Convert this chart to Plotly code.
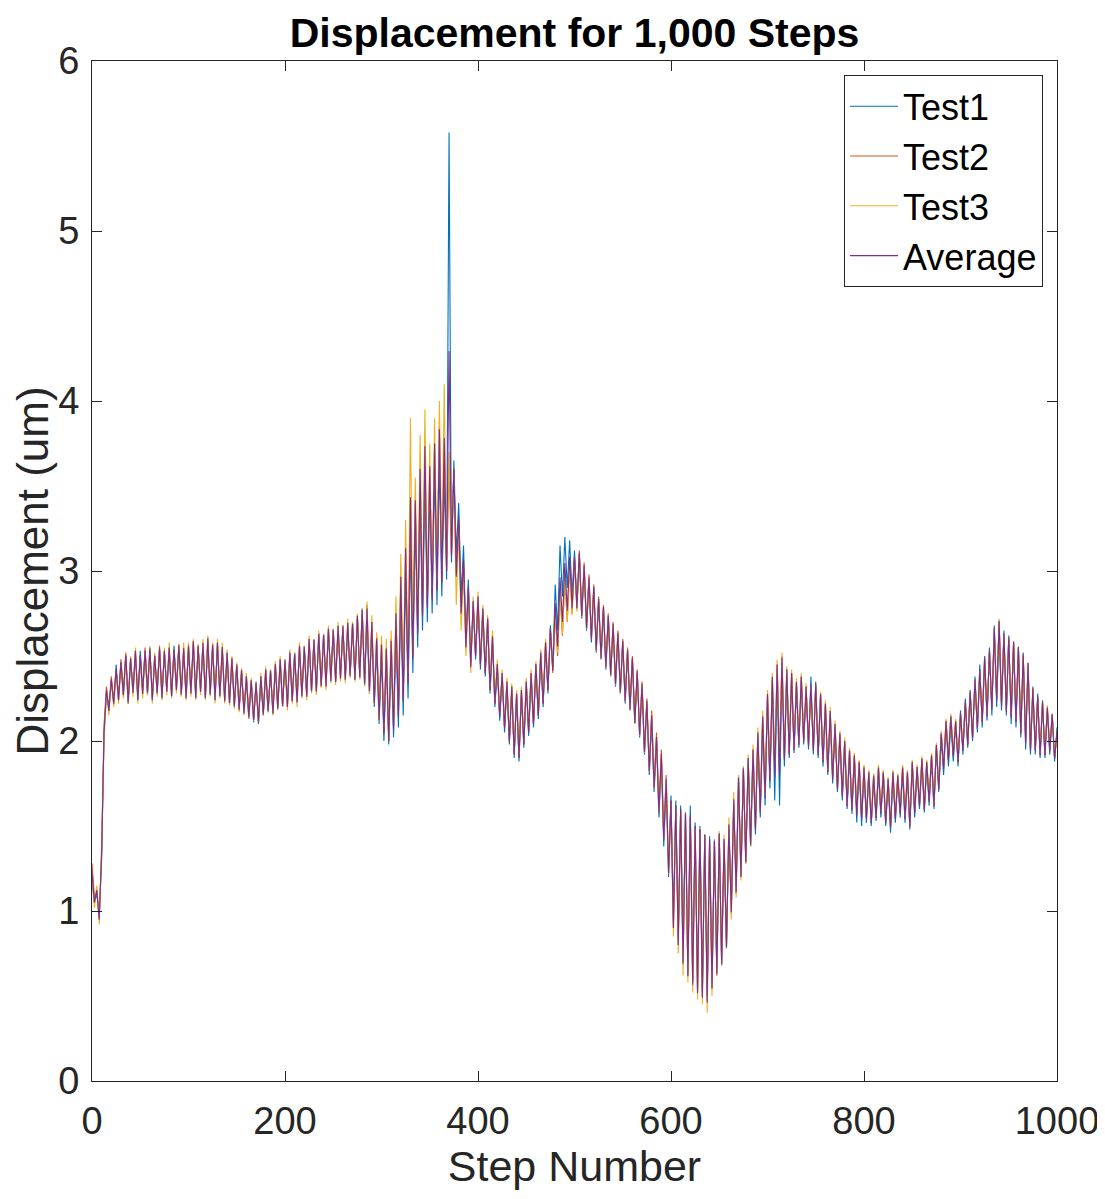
import plotly.graph_objects as go

# Peak (hi) and trough (lo) values, in um (one pair every 5 steps)
test1_hi = [
    1.18, 1.10, 1.30, 2.28, 2.35, 2.45, 2.46, 2.50, 2.49, 2.51, 2.53, 2.52, 2.55, 2.50, 2.54, 2.53, 2.52, 2.56, 2.55, 2.52,
    2.54, 2.57, 2.56, 2.55, 2.58, 2.55, 2.56, 2.53, 2.50, 2.47, 2.44, 2.40, 2.36, 2.34, 2.35, 2.36, 2.40, 2.42, 2.44, 2.46,
    2.48, 2.50, 2.52, 2.54, 2.56, 2.58, 2.60, 2.61, 2.63, 2.64, 2.66, 2.65, 2.68, 2.66, 2.70, 2.74, 2.78, 2.72, 2.66, 2.55,
    2.50, 2.48, 2.52, 2.65, 2.85, 3.00, 3.15, 3.30, 3.45, 3.55, 3.50, 3.60, 3.65, 3.55, 5.58, 3.65, 3.40, 3.15, 2.95, 2.82,
    2.82, 2.76, 2.70, 2.58, 2.43, 2.38, 2.33, 2.30, 2.26, 2.28, 2.33, 2.38, 2.44, 2.50, 2.56, 2.68, 2.92, 3.15, 3.20, 3.18,
    3.12, 3.10, 3.02, 2.95, 2.90, 2.82, 2.78, 2.72, 2.68, 2.62, 2.58, 2.52, 2.48, 2.40, 2.32, 2.22, 2.12, 2.00, 1.90, 1.75,
    1.68, 1.65, 1.62, 1.58, 1.62, 1.52, 1.50, 1.45, 1.44, 1.42, 1.45, 1.40, 1.48, 1.62, 1.80, 1.85, 1.88, 1.92, 2.02, 2.10,
    2.25, 2.35, 2.42, 2.45, 2.40, 2.38, 2.32, 2.36, 2.30, 2.38, 2.35, 2.26, 2.20, 2.15, 2.08, 2.02, 1.98, 1.92, 1.90, 1.86,
    1.82, 1.80, 1.78, 1.82, 1.80, 1.76, 1.80, 1.78, 1.82, 1.80, 1.86, 1.83, 1.88, 1.86, 1.90, 1.96, 2.02, 2.10, 2.12, 2.10,
    2.18, 2.25, 2.30, 2.38, 2.45, 2.50, 2.55, 2.68, 2.70, 2.65, 2.62, 2.58, 2.55, 2.52, 2.46, 2.32, 2.28, 2.24, 2.18, 2.16,
    2.08,
]
test1_lo = [
    1.05, 0.98, 2.05, 2.20, 2.22, 2.24, 2.27, 2.22, 2.28, 2.24, 2.30, 2.27, 2.24, 2.28, 2.25, 2.29, 2.26, 2.30, 2.27, 2.25,
    2.28, 2.25, 2.29, 2.25, 2.27, 2.24, 2.26, 2.23, 2.22, 2.20, 2.18, 2.16, 2.13, 2.11, 2.10, 2.15, 2.17, 2.16, 2.19, 2.20,
    2.22, 2.23, 2.25, 2.26, 2.28, 2.29, 2.31, 2.32, 2.34, 2.35, 2.36, 2.37, 2.38, 2.38, 2.36, 2.37, 2.33, 2.28, 2.20, 2.10,
    2.00, 1.98, 2.02, 2.08, 2.15, 2.25, 2.40, 2.55, 2.65, 2.70, 2.75, 2.80, 2.85, 2.95, 3.05, 3.10, 2.85, 2.60, 2.45, 2.48,
    2.42, 2.38, 2.28, 2.20, 2.12, 2.05, 1.98, 1.90, 1.88, 1.96, 2.03, 2.08, 2.13, 2.20, 2.28, 2.42, 2.65, 2.85, 2.90, 2.85,
    2.80, 2.72, 2.65, 2.58, 2.52, 2.48, 2.42, 2.38, 2.32, 2.28, 2.22, 2.18, 2.10, 2.02, 1.92, 1.80, 1.70, 1.55, 1.38, 1.20,
    0.95, 0.85, 0.75, 0.65, 0.60, 0.55, 0.52, 0.50, 0.58, 0.62, 0.68, 0.78, 1.05, 1.15, 1.22, 1.28, 1.38, 1.45, 1.55, 1.62,
    1.72, 1.65, 1.62, 1.85, 1.90, 1.93, 1.96, 1.98, 1.95, 1.92, 1.90, 1.85, 1.80, 1.75, 1.70, 1.65, 1.60, 1.57, 1.52, 1.50,
    1.52, 1.50, 1.53, 1.55, 1.50, 1.46, 1.52, 1.55, 1.52, 1.48, 1.55, 1.60, 1.58, 1.62, 1.60, 1.70, 1.80, 1.85, 1.88, 1.85,
    1.92, 1.96, 2.00, 2.05, 2.08, 2.12, 2.15, 2.20, 2.18, 2.15, 2.10, 2.08, 2.02, 1.95, 1.92, 1.92, 1.90, 1.90, 1.92, 1.88,
]
test2_hi = [
    1.28, 1.12, 1.35, 2.32, 2.38, 2.42, 2.48, 2.52, 2.47, 2.53, 2.50, 2.55, 2.52, 2.49, 2.56, 2.51, 2.55, 2.53, 2.57, 2.54,
    2.56, 2.59, 2.55, 2.58, 2.61, 2.57, 2.58, 2.55, 2.52, 2.49, 2.45, 2.42, 2.38, 2.36, 2.33, 2.38, 2.42, 2.40, 2.45, 2.48,
    2.46, 2.52, 2.50, 2.56, 2.54, 2.60, 2.58, 2.63, 2.61, 2.66, 2.64, 2.68, 2.66, 2.70, 2.67, 2.72, 2.75, 2.80, 2.70, 2.62,
    2.58, 2.55, 2.60, 2.75, 2.95, 3.10, 3.25, 3.40, 3.55, 3.70, 3.60, 3.75, 3.85, 3.70, 3.60, 3.60, 3.30, 3.05, 2.90, 2.80,
    2.85, 2.78, 2.72, 2.62, 2.45, 2.40, 2.35, 2.32, 2.28, 2.30, 2.35, 2.40, 2.45, 2.52, 2.58, 2.65, 2.75, 2.88, 2.98, 3.05,
    3.08, 3.12, 3.05, 2.98, 2.92, 2.85, 2.80, 2.75, 2.70, 2.65, 2.60, 2.55, 2.50, 2.42, 2.35, 2.25, 2.18, 2.05, 1.95, 1.80,
    1.65, 1.62, 1.60, 1.58, 1.55, 1.50, 1.48, 1.45, 1.42, 1.40, 1.45, 1.42, 1.50, 1.65, 1.75, 1.82, 1.90, 1.95, 2.05, 2.15,
    2.28, 2.38, 2.45, 2.50, 2.42, 2.40, 2.35, 2.38, 2.32, 2.30, 2.32, 2.28, 2.22, 2.18, 2.10, 2.05, 2.00, 1.95, 1.92, 1.88,
    1.85, 1.82, 1.80, 1.85, 1.82, 1.78, 1.82, 1.80, 1.85, 1.82, 1.88, 1.85, 1.90, 1.88, 1.92, 1.98, 2.05, 2.12, 2.15, 2.12,
    2.15, 2.22, 2.28, 2.35, 2.40, 2.48, 2.52, 2.65, 2.70, 2.62, 2.60, 2.58, 2.55, 2.50, 2.45, 2.30, 2.25, 2.22, 2.20, 2.15,
    2.05,
]
test2_lo = [
    1.08, 0.95, 2.10, 2.18, 2.24, 2.26, 2.29, 2.24, 2.31, 2.26, 2.28, 2.31, 2.26, 2.30, 2.27, 2.31, 2.28, 2.32, 2.29, 2.27,
    2.30, 2.27, 2.31, 2.27, 2.29, 2.26, 2.28, 2.25, 2.24, 2.22, 2.20, 2.18, 2.16, 2.14, 2.12, 2.17, 2.19, 2.17, 2.20, 2.22,
    2.20, 2.25, 2.23, 2.28, 2.26, 2.31, 2.29, 2.34, 2.32, 2.37, 2.35, 2.38, 2.36, 2.40, 2.37, 2.39, 2.35, 2.32, 2.25, 2.15,
    2.05, 2.00, 2.08, 2.15, 2.25, 2.35, 2.50, 2.65, 2.75, 2.80, 2.85, 2.90, 2.95, 3.00, 3.10, 3.00, 2.75, 2.55, 2.45, 2.50,
    2.45, 2.40, 2.30, 2.22, 2.15, 2.08, 2.00, 1.92, 1.90, 1.98, 2.05, 2.10, 2.15, 2.22, 2.30, 2.40, 2.50, 2.62, 2.70, 2.75,
    2.78, 2.75, 2.68, 2.62, 2.55, 2.50, 2.45, 2.40, 2.35, 2.30, 2.25, 2.20, 2.12, 2.05, 1.95, 1.85, 1.75, 1.60, 1.45, 1.25,
    0.90, 0.80, 0.70, 0.62, 0.58, 0.52, 0.50, 0.48, 0.55, 0.65, 0.70, 0.80, 0.98, 1.10, 1.20, 1.30, 1.40, 1.50, 1.60, 1.70,
    1.78, 1.85, 1.88, 1.90, 1.92, 1.95, 1.98, 2.00, 1.98, 1.95, 1.92, 1.88, 1.82, 1.78, 1.72, 1.68, 1.62, 1.60, 1.58, 1.55,
    1.55, 1.52, 1.55, 1.58, 1.52, 1.50, 1.55, 1.58, 1.55, 1.50, 1.58, 1.62, 1.60, 1.65, 1.62, 1.72, 1.85, 1.90, 1.92, 1.88,
    1.95, 1.98, 2.02, 2.08, 2.12, 2.15, 2.20, 2.25, 2.22, 2.18, 2.15, 2.12, 2.05, 2.00, 1.95, 1.95, 1.92, 1.92, 1.95, 1.90,
]
test3_hi = [
    1.22, 1.15, 1.40, 2.30, 2.36, 2.40, 2.45, 2.49, 2.50, 2.55, 2.48, 2.52, 2.56, 2.52, 2.53, 2.55, 2.58, 2.52, 2.56, 2.58,
    2.58, 2.60, 2.57, 2.60, 2.62, 2.58, 2.60, 2.58, 2.54, 2.50, 2.46, 2.43, 2.40, 2.37, 2.34, 2.40, 2.44, 2.42, 2.47, 2.50,
    2.48, 2.54, 2.52, 2.58, 2.56, 2.62, 2.60, 2.65, 2.63, 2.68, 2.66, 2.70, 2.68, 2.72, 2.70, 2.75, 2.78, 2.82, 2.74, 2.64,
    2.62, 2.60, 2.65, 2.85, 3.10, 3.30, 3.90, 3.55, 3.80, 3.95, 3.75, 3.90, 4.00, 4.10, 3.70, 3.55, 3.25, 3.00, 2.88, 2.85,
    2.88, 2.80, 2.74, 2.65, 2.48, 2.42, 2.37, 2.34, 2.30, 2.32, 2.37, 2.42, 2.47, 2.54, 2.60, 2.66, 2.76, 2.86, 2.96, 3.02,
    3.05, 3.10, 3.03, 2.96, 2.90, 2.84, 2.79, 2.74, 2.69, 2.64, 2.59, 2.54, 2.49, 2.41, 2.34, 2.24, 2.16, 2.03, 1.92, 1.78,
    1.62, 1.60, 1.58, 1.56, 1.52, 1.48, 1.46, 1.44, 1.40, 1.42, 1.47, 1.45, 1.55, 1.70, 1.80, 1.85, 1.92, 1.98, 2.08, 2.18,
    2.30, 2.40, 2.48, 2.52, 2.44, 2.42, 2.37, 2.40, 2.34, 2.32, 2.33, 2.29, 2.24, 2.20, 2.12, 2.06, 2.02, 1.96, 1.93, 1.89,
    1.86, 1.83, 1.81, 1.86, 1.83, 1.79, 1.83, 1.81, 1.86, 1.83, 1.89, 1.86, 1.91, 1.89, 1.93, 1.99, 2.06, 2.13, 2.16, 2.13,
    2.16, 2.23, 2.29, 2.36, 2.41, 2.49, 2.53, 2.66, 2.72, 2.63, 2.61, 2.59, 2.56, 2.51, 2.46, 2.31, 2.26, 2.23, 2.21, 2.16,
    2.02,
]
test3_lo = [
    1.02, 0.92, 2.00, 2.15, 2.20, 2.22, 2.25, 2.22, 2.26, 2.22, 2.25, 2.27, 2.22, 2.26, 2.24, 2.27, 2.25, 2.28, 2.26, 2.24,
    2.26, 2.24, 2.27, 2.24, 2.26, 2.22, 2.25, 2.22, 2.21, 2.19, 2.17, 2.15, 2.13, 2.12, 2.11, 2.15, 2.17, 2.15, 2.18, 2.20,
    2.18, 2.22, 2.20, 2.25, 2.24, 2.28, 2.27, 2.31, 2.30, 2.34, 2.33, 2.35, 2.34, 2.37, 2.35, 2.36, 2.32, 2.28, 2.22, 2.12,
    2.08, 2.02, 2.10, 2.20, 2.30, 2.40, 2.55, 2.70, 2.80, 2.85, 2.90, 2.95, 3.00, 3.05, 3.10, 2.80, 2.65, 2.50, 2.40, 2.52,
    2.48, 2.42, 2.32, 2.24, 2.16, 2.10, 2.02, 1.94, 1.92, 2.00, 2.07, 2.12, 2.17, 2.24, 2.32, 2.42, 2.52, 2.63, 2.70, 2.74,
    2.76, 2.73, 2.66, 2.60, 2.53, 2.48, 2.43, 2.38, 2.33, 2.28, 2.23, 2.18, 2.10, 2.03, 1.93, 1.82, 1.72, 1.58, 1.42, 1.22,
    0.85, 0.75, 0.62, 0.58, 0.52, 0.48, 0.45, 0.40, 0.50, 0.62, 0.68, 0.78, 0.95, 1.08, 1.18, 1.28, 1.38, 1.48, 1.58, 1.68,
    1.80, 1.86, 1.90, 1.92, 1.94, 1.96, 1.99, 2.01, 1.99, 1.96, 1.93, 1.89, 1.83, 1.79, 1.73, 1.69, 1.63, 1.61, 1.59, 1.56,
    1.56, 1.53, 1.56, 1.59, 1.53, 1.51, 1.56, 1.59, 1.56, 1.51, 1.59, 1.63, 1.61, 1.66, 1.63, 1.73, 1.86, 1.91, 1.93, 1.89,
    1.96, 1.99, 2.03, 2.09, 2.13, 2.16, 2.21, 2.26, 2.23, 2.19, 2.16, 2.13, 2.06, 2.01, 1.96, 1.96, 1.93, 1.93, 1.96, 1.91,
]

x_ticks = [0, 200, 400, 600, 800, 1000]
y_ticks = [0, 1, 2, 3, 4, 5, 6]
series_names = ["Test1", "Test2", "Test3", "Average"]
colors = ["#0072BD", "#D95319", "#EDB120", "#7E2F8E"]


def build(hi, lo):
    xs, ys = [], []
    for k, (h, l) in enumerate(zip(hi, lo)):
        xs += [5 * k, 5 * k + 2.5]
        ys += [h, l]
    if len(hi) > len(lo):
        xs.append(5 * len(lo))
        ys.append(hi[len(lo)])
    return xs, ys


x1, y1 = build(test1_hi, test1_lo)
x2, y2 = build(test2_hi, test2_lo)
x3, y3 = build(test3_hi, test3_lo)
n = min(len(y1), len(y2), len(y3))
y_avg = [(a + b + c) / 3 for a, b, c in zip(y1[:n], y2[:n], y3[:n])]
x_avg = x1[:n]

fig = go.Figure()
for name, xs, ys, col in zip(series_names, [x1, x2, x3, x_avg], [y1, y2, y3, y_avg], colors):
    fig.add_trace(go.Scatter(x=xs, y=ys, mode="lines", name=name,
                             line=dict(color=col, width=1.1)))

font_family = "Liberation Sans, Arial, Helvetica, sans-serif"
axis_col = "#262626"

fig.update_layout(
    width=1097, height=1191,
    margin=dict(l=84, r=48, t=53, b=118, autoexpand=False),
    paper_bgcolor="white", plot_bgcolor="white",
    title=dict(text="<b>Displacement for 1,000 Steps</b>", xref="paper", x=0.5, xanchor="center",
               yref="container", y=1 - 25 / 1191, yanchor="middle",
               font=dict(family=font_family, size=41, color="black")),
    font=dict(family=font_family, color=axis_col),
    legend=dict(x=0.9855, y=0.986, xanchor="right", yanchor="top",
                bgcolor="white", bordercolor=axis_col, borderwidth=1,
                font=dict(family=font_family, size=36, color="black"),
                tracegroupgap=0, itemwidth=48),
    showlegend=True,
)
fig.update_xaxes(range=[0, 1000], tickvals=x_ticks, ticktext=[str(v) for v in x_ticks],
                 showgrid=False, zeroline=False, showline=True, linecolor=axis_col, linewidth=1,
                 mirror="ticks", ticks="inside", ticklen=10, tickcolor=axis_col, automargin=False,
                 tickfont=dict(size=38, color=axis_col), ticklabelstandoff=6,
                 title=dict(text="Step Number", font=dict(size=43, color=axis_col), standoff=4))
fig.update_yaxes(range=[0, 6], tickvals=y_ticks, ticktext=[str(v) for v in y_ticks],
                 showgrid=False, zeroline=False, showline=True, linecolor=axis_col, linewidth=1,
                 mirror="ticks", ticks="inside", ticklen=10, tickcolor=axis_col, automargin=False,
                 tickfont=dict(size=38, color=axis_col), ticklabelstandoff=4,
                 title=dict(text="Displacement (um)", font=dict(size=44, color=axis_col), standoff=6))

fig.write_html("out.html")
